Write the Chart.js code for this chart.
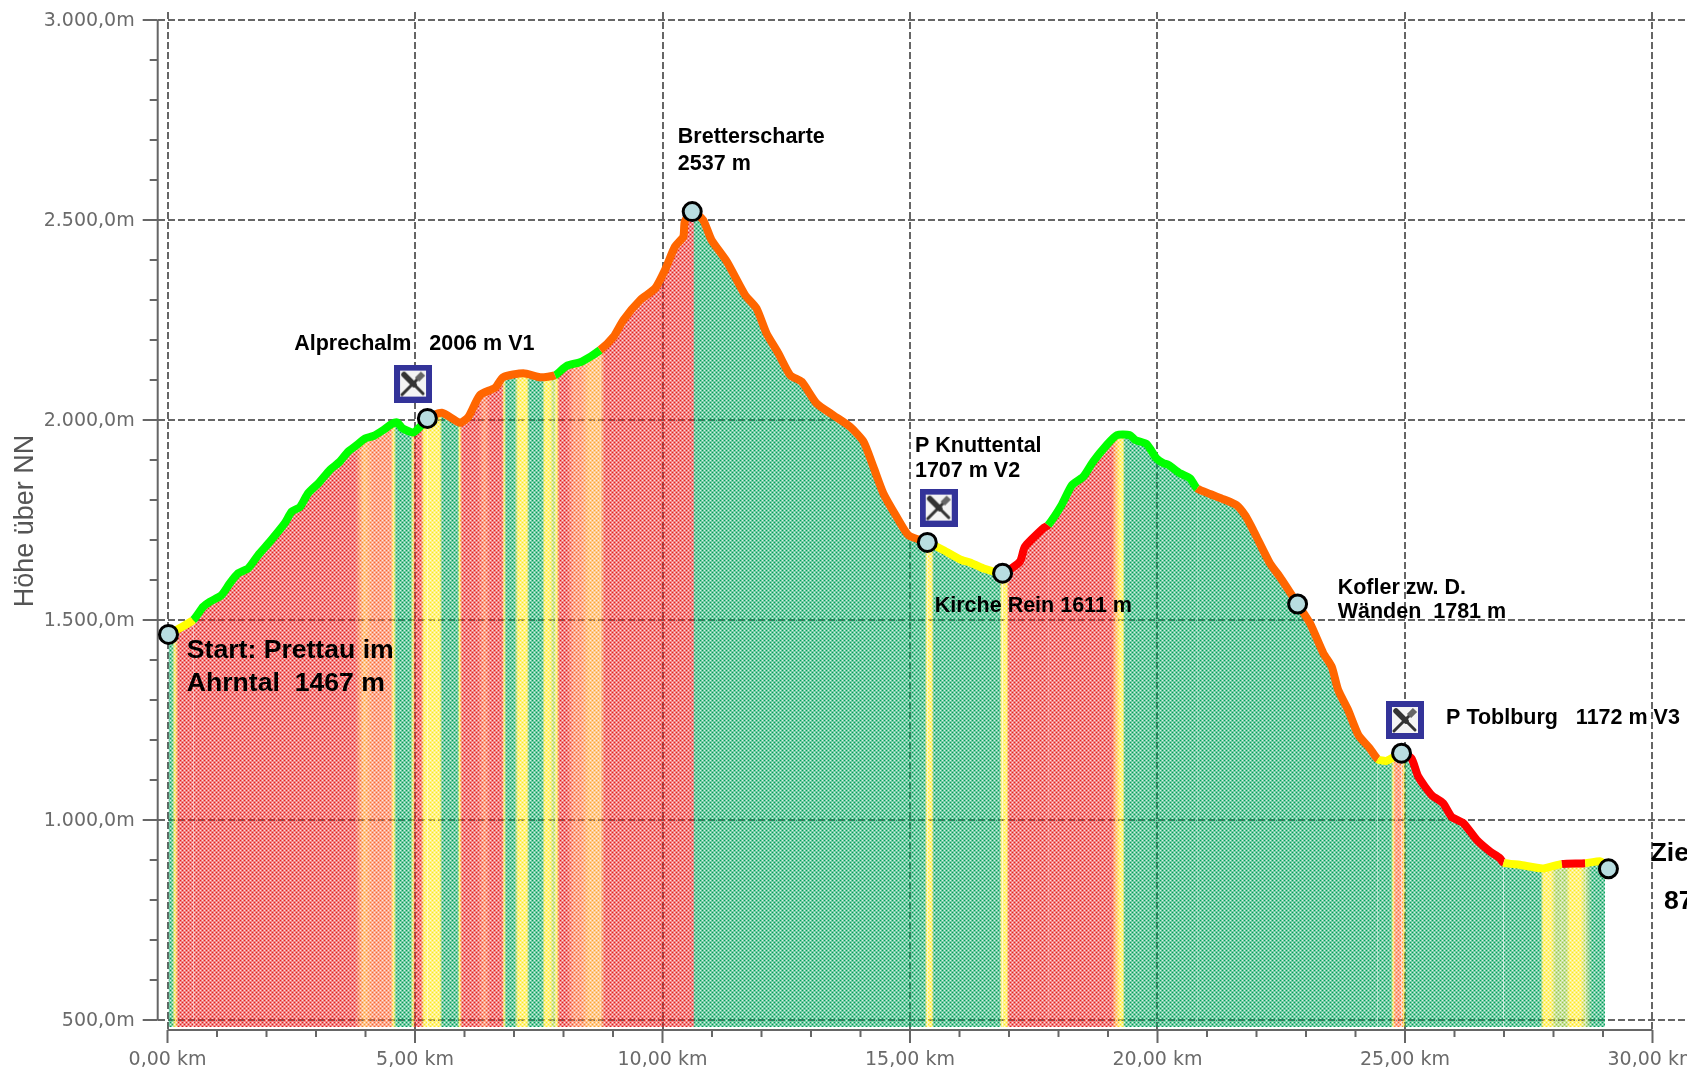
<!DOCTYPE html>
<html>
<head>
<meta charset="utf-8">
<title>Höhenprofil</title>
<style>
    html, body { margin: 0; padding: 0; background: #fff; overflow: hidden; }
    canvas { display: block; }
</style>
<script src="https://cdn.jsdelivr.net/npm/chart.js@4"></script>
</head>
<body>
<canvas id="profile" width="1687" height="1067"></canvas>
<script>
// Elevation profile, km along the route and metres
const routeKm = [0.02, 0.25, 0.52, 0.72, 0.86, 1.09, 1.26, 1.43, 1.63, 1.83, 2.07, 2.37, 2.51, 2.68, 2.84, 3.05,
    3.28, 3.48, 3.65, 3.82, 3.99, 4.16, 4.36, 4.53, 4.64, 4.75, 4.97, 5.13, 5.25, 5.54, 5.91, 6.08, 6.31, 6.62,
    6.78, 7.19, 7.53, 7.83, 8.06, 8.37, 8.74, 9.01, 9.21, 9.55, 9.85, 10.05, 10.25, 10.42, 10.45, 10.60, 10.82,
    10.99, 11.30, 11.67, 11.90, 12.10, 12.34, 12.58, 12.81, 13.11, 13.45, 13.79, 14.06, 14.26, 14.46, 14.73,
    14.97, 15.35, 15.67, 16.04, 16.21, 16.48, 16.87, 17.22, 17.32, 17.69, 17.79, 18.06, 18.27, 18.50, 18.70,
    18.97, 19.18, 19.44, 19.55, 19.78, 19.98, 20.12, 20.22, 20.45, 20.66, 20.80, 21.06, 21.33, 21.60, 21.77,
    21.90, 22.00, 22.27, 22.47, 22.83, 23.08, 23.35, 23.52, 23.65, 23.85, 24.06, 24.29, 24.45, 24.63, 24.93,
    25.13, 25.27, 25.54, 25.77, 25.94, 26.18, 26.45, 26.72, 26.92, 26.99, 27.32, 27.79, 28.17, 28.64, 28.94, 29.04];
const routeElevation = [1464, 1480, 1500, 1533, 1546, 1562, 1592, 1617, 1629, 1662, 1696, 1742, 1771, 1783, 1817, 1842,
    1875, 1896, 1921, 1937, 1954, 1960, 1975, 1990, 1994, 1979, 1969, 1987, 2004, 2018, 1993, 2008, 2062, 2081,
    2107, 2117, 2107, 2112, 2135, 2146, 2175, 2208, 2250, 2300, 2329, 2375, 2433, 2458, 2496, 2521, 2500,
    2450, 2396, 2312, 2279, 2217, 2167, 2112, 2096, 2042, 2012, 1983, 1946, 1883, 1817, 1758,
    1712, 1694, 1675, 1650, 1644, 1629, 1617, 1646, 1683, 1729, 1737, 1787, 1837, 1858, 1896,
    1937, 1962, 1962, 1950, 1940, 1904, 1892, 1888, 1867, 1854, 1829, 1815, 1802, 1787, 1762,
    1733, 1708, 1642, 1608, 1540, 1492, 1417, 1383, 1325, 1275, 1212, 1179, 1152, 1148, 1167,
    1154, 1108, 1062, 1042, 1008, 992, 950, 921, 904, 893, 888, 879, 890, 892, 897, 890];

// Colour of the line: each stretch runs up to the km given
const lineEndKm = [0.52, 5.25, 7.83, 8.74, 15.35, 16.87, 17.79, 20.80, 24.45, 24.93, 26.99, 28.17, 28.64, 29.04];
const lineKind = ['yellow', 'green', 'orange', 'green', 'orange', 'yellow', 'red', 'green', 'orange', 'yellow', 'red', 'yellow', 'red', 'yellow'];

// Colour bands of the filled area, blended between the stops
const bandKm = [0, 0.09, 0.15, 0.22, 3.79, 3.97, 4.15, 4.51, 4.57, 4.62, 4.91, 4.96, 5.0, 5.12, 5.18, 5.5, 5.55, 5.86,
    5.9, 5.95, 6.27, 6.4, 6.53, 6.76, 6.8, 6.84, 7.01, 7.08, 7.26, 7.31, 7.57, 7.62, 7.73, 7.8, 7.86, 7.92, 8.07, 8.21,
    8.34, 8.52, 8.74, 8.84, 10.62, 10.65, 15.3, 15.34, 15.44, 15.48, 16.81, 16.85, 16.95, 17.0, 19.08, 19.14, 19.24, 19.3,
    19.34, 24.72, 24.76, 24.8, 24.93, 24.98, 25.02, 27.74, 27.79, 27.95, 28.05, 28.25, 28.33, 28.55, 28.65, 28.78, 29.04];
const bandKind = ['g', 'g', 'y', 'r', 'r', 'l', 's', 's', 'y', 'g', 'g', 'y', 'r', 'r', 'y', 'y', 'g', 'g',
    'y', 'r', 'r', 's', 'r', 'r', 'y', 'g', 'g', 'y', 'y', 'g', 'g', 'y', 'y', 'm', 'y', 'r', 'r', 's',
    's', 'l', 'l', 'r', 'r', 'g', 'g', 'y', 'y', 'g', 'g', 'y', 'y', 'r', 'r', 'o', 'y', 'y',
    'g', 'g', 'y', 's', 's', 'y', 'g', 'g', 'y', 'y', 'm', 'm', 'y', 'y', 'm', 'g', 'g'];

// Waypoints and rest stops
const wayKm = [0.02, 5.25, 10.60, 15.35, 16.87, 22.83, 24.93, 29.11];
const wayElevation = [1464, 2004, 2521, 1694, 1617, 1540, 1167, 878];
const restKm = [4.96, 15.58, 25.0];
const restElevation = [2091, 1781, 1250];

// Text next to the route
const noteText = ['Alprechalm   2006 m V1', 'Bretterscharte', '2537 m', 'P Knuttental', '1707 m V2', 'Kirche Rein 1611 m',
    'Kofler zw. D.', 'Wänden  1781 m', 'P Toblburg   1172 m V3', 'Start: Prettau im', 'Ahrntal  1467 m', 'Ziel', '878 m'];
const noteKm = [2.56, 10.31, 10.31, 15.10, 15.10, 15.50, 23.64, 23.64, 25.83, 0.39, 0.39, 29.96, 30.23];
const noteElevation = [2190, 2708, 2641, 1934, 1872, 1534, 1581, 1519, 1255, 1423, 1342, 915, 797];
const noteBig = [false, false, false, false, false, false, false, false, false, true, true, true, true];

// Tick labels
const yLabels = ['500,0m', '1.000,0m', '1.500,0m', '2.000,0m', '2.500,0m', '3.000,0m'];
const xLabels = ['0,00 km', '5,00 km', '10,00 km', '15,00 km', '20,00 km', '25,00 km', '30,00 km'];

const linePalette = { green: '#00ff00', orange: '#ff6600', yellow: '#ffff00', red: '#ff0000' };
const bandPalette = {
    r: 'rgb(230,30,30)', g: 'rgb(0,160,90)', y: 'rgb(255,232,30)', o: 'rgb(255,125,30)',
    s: 'rgb(250,100,50)', l: 'rgb(255,160,50)', m: 'rgb(150,200,70)'
};

// The fill is dithered: coloured pixels with holes, so the grid shows through
let bandPattern = null;
function getBandPattern(chart) {
    if (!chart.chartArea) return 'transparent';
    if (bandPattern) return bandPattern;

    const off = document.createElement('canvas');
    off.width = chart.width;
    off.height = 4;
    const c = off.getContext('2d');
    const grad = c.createLinearGradient(0, 0, off.width, 0);
    bandKm.forEach((km, i) => {
        grad.addColorStop(chart.scales.x.getPixelForValue(km) / off.width, bandPalette[bandKind[i]]);
    });
    c.fillStyle = grad;
    c.fillRect(0, 0, off.width, off.height);

    const img = c.getImageData(0, 0, off.width, off.height);
    const mask = [[255, 140, 40, 140], [140, 140, 140, 140], [40, 140, 255, 140], [140, 140, 140, 140]];
    for (let y = 0; y < off.height; y++) {
        for (let x = 0; x < off.width; x++) {
            img.data[(y * off.width + x) * 4 + 3] = mask[y][x % 4];
        }
    }
    c.putImageData(img, 0, 0);
    bandPattern = c.createPattern(off, 'repeat');
    return bandPattern;
}

function segmentColor(ctx) {
    const km = ctx.p1.parsed.x;
    const i = lineEndKm.findIndex(end => km <= end);
    return linePalette[lineKind[i < 0 ? lineKind.length - 1 : i]];
}

// Blue square with crossed knife and fork
function makeRestIcon() {
    const icon = document.createElement('canvas');
    icon.width = 38;
    icon.height = 38;
    const c = icon.getContext('2d');
    c.fillStyle = '#333399';
    c.fillRect(0, 0, 38, 38);
    c.fillStyle = '#f4f4f4';
    c.fillRect(6, 6, 26, 26);
    c.strokeStyle = '#333333';
    c.lineCap = 'round';
    c.lineWidth = 3;
    c.beginPath();
    c.moveTo(8, 30);
    c.lineTo(24, 14);
    c.stroke();
    c.lineWidth = 5.5;
    c.beginPath();
    c.moveTo(10, 10);
    c.lineTo(20, 20);
    c.stroke();
    c.lineWidth = 3;
    c.beginPath();
    c.moveTo(20, 20);
    c.lineTo(29, 29);
    c.stroke();
    c.strokeStyle = '#666666';
    c.lineWidth = 6;
    c.lineCap = 'butt';
    c.beginPath();
    c.moveTo(23, 15);
    c.lineTo(29, 9);
    c.stroke();
    return icon;
}

// Axis lines and outer ticks, and the notes on top
const axisPlugin = {
    id: 'axisPlugin',
    beforeDatasetsDraw(chart) {
        const { ctx, scales: { x, y } } = chart;
        const axisX = chart.chartArea.left;
        const axisY = chart.chartArea.bottom;
        ctx.save();
        ctx.strokeStyle = '#666666';
        ctx.lineWidth = 2;
        ctx.beginPath();
        ctx.moveTo(axisX, y.getPixelForValue(3000));
        ctx.lineTo(axisX, y.getPixelForValue(500));
        ctx.moveTo(x.getPixelForValue(0), axisY);
        ctx.lineTo(x.getPixelForValue(30), axisY);
        y.ticks.forEach(t => {
            const py = y.getPixelForValue(t.value);
            ctx.moveTo(axisX - (t.value % 500 === 0 ? 15 : 8), py);
            ctx.lineTo(axisX, py);
        });
        x.ticks.forEach(t => {
            const px = x.getPixelForValue(t.value);
            ctx.moveTo(px, axisY);
            ctx.lineTo(px, axisY + (t.value % 5 === 0 ? 13 : 7));
        });
        ctx.stroke();
        ctx.restore();
    },
    afterDatasetsDraw(chart) {
        const { ctx, scales: { x, y } } = chart;
        ctx.save();
        ctx.fillStyle = '#000';
        ctx.textAlign = 'left';
        ctx.textBaseline = 'middle';
        noteText.forEach((text, i) => {
            ctx.font = 'bold ' + (noteBig[i] ? 26.6 : 21.5) + 'px "Liberation Sans"';
            ctx.fillText(text, x.getPixelForValue(noteKm[i]), y.getPixelForValue(noteElevation[i]));
        });
        ctx.restore();
    }
};

function tickRange(from, to, step) {
    const ticks = [];
    for (let v = from; v <= to; v += step) ticks.push({ value: v });
    return ticks;
}

// Labels stick out past the plot; keep them from shrinking the chart area
function noAxisPadding(axis) {
    axis.paddingLeft = 0;
    axis.paddingRight = 0;
    axis.paddingTop = 0;
    axis.paddingBottom = 0;
}

const gridStyle = {
    color: ctx => ctx.tick && ctx.tick.value % (ctx.scale.axis === 'x' ? 5 : 500) === 0 ? '#666666' : 'transparent',
    lineWidth: 2,
    drawTicks: false
};

new Chart(document.getElementById('profile').getContext('2d'), {
    type: 'line',
    data: {
        datasets: [
            {
                data: restKm.map((km, i) => ({ x: km, y: restElevation[i] })),
                showLine: false,
                pointStyle: makeRestIcon(),
                pointRadius: 19,
                order: 0
            },
            {
                data: wayKm.map((km, i) => ({ x: km, y: wayElevation[i] })),
                showLine: false,
                pointStyle: 'circle',
                pointRadius: 9,
                pointBackgroundColor: '#b8dde0',
                pointBorderColor: '#000000',
                pointBorderWidth: 3,
                clip: false,
                order: 1
            },
            {
                data: routeKm.map((km, i) => ({ x: km, y: routeElevation[i] })),
                borderWidth: 8,
                borderColor: '#00ff00',
                borderCapStyle: 'butt',
                borderJoinStyle: 'round',
                segment: { borderColor: segmentColor },
                backgroundColor: ctx => getBandPattern(ctx.chart),
                fill: { value: 482.5 },
                pointRadius: 0,
                tension: 0.2,
                order: 2
            }
        ]
    },
    options: {
        responsive: false,
        animation: false,
        events: [],
        layout: { autoPadding: false, padding: { top: 12, right: 0, bottom: 0, left: 0 } },
        plugins: { legend: { display: false }, tooltip: { enabled: false } },
        scales: {
            x: {
                type: 'linear',
                min: -0.198,
                max: 30.697,
                afterBuildTicks: axis => { axis.ticks = tickRange(0, 30, 1); },
                afterFit: axis => { axis.height = 37; noAxisPadding(axis); },
                border: { display: false, dash: [7, 3] },
                grid: gridStyle,
                ticks: {
                    autoSkip: false,
                    maxRotation: 0,
                    padding: 19,
                    color: '#6a6a6a',
                    font: { family: '"DejaVu Sans"', size: 19 },
                    callback: value => value % 5 === 0 ? xLabels[value / 5] : ''
                }
            },
            y: {
                type: 'linear',
                min: 475,
                max: 3020,
                afterBuildTicks: axis => { axis.ticks = tickRange(500, 3000, 100); },
                afterFit: axis => { axis.width = 157.7; noAxisPadding(axis); },
                border: { display: false, dash: [7, 3] },
                grid: gridStyle,
                title: {
                    display: true,
                    text: 'Höhe über NN',
                    color: '#555555',
                    padding: { top: 9, bottom: 0 },
                    font: { family: '"Liberation Sans"', size: 27 }
                },
                ticks: {
                    autoSkip: false,
                    padding: 23,
                    labelOffset: 1,
                    color: '#6a6a6a',
                    font: { family: '"DejaVu Sans"', size: 19 },
                    callback: value => value % 500 === 0 ? yLabels[value / 500 - 1] : ''
                }
            }
        }
    },
    plugins: [axisPlugin]
});
</script>
</body>
</html>
